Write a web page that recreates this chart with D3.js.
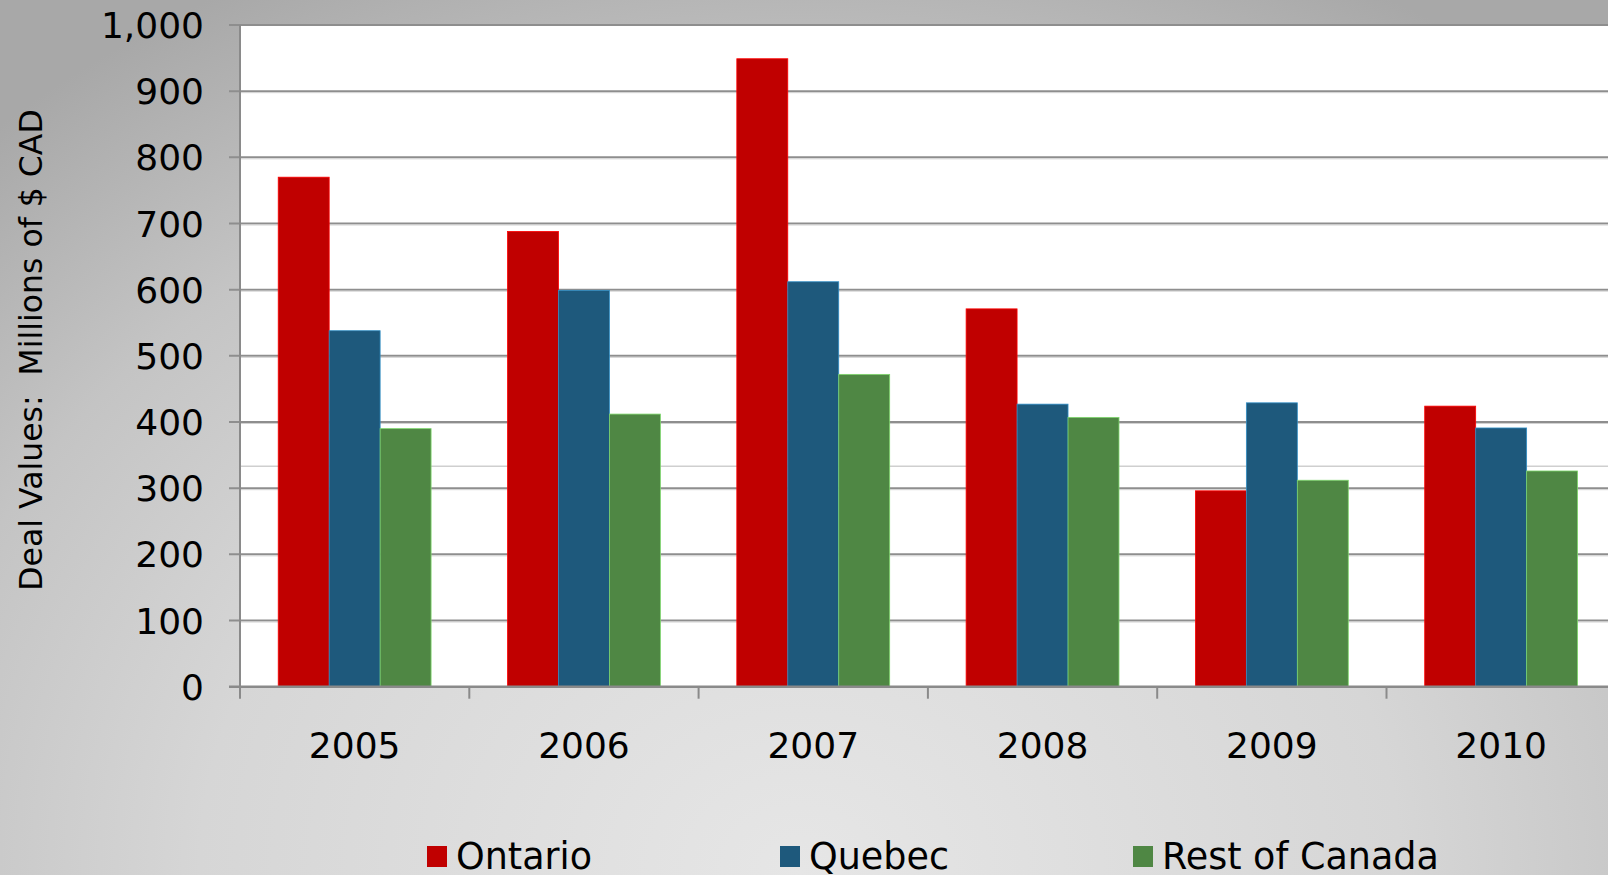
<!DOCTYPE html>
<html>
<head>
<meta charset="utf-8">
<script src="https://cdn.jsdelivr.net/npm/d3@7"></script>
<style>
  body { margin: 0; overflow: hidden; }
  svg { display: block; font-family: "DejaVu Sans", Verdana, sans-serif; }
</style>
</head>
<body>
<div id="chart"></div>
<script>
    // deal values, millions of $ CAD
    var years = ["2005", "2006", "2007", "2008", "2009", "2010"];
    var series = ["Ontario", "Quebec", "Rest of Canada"];
    var ontario = [770, 688, 949, 571, 296, 424];
    var quebec = [538, 599, 612, 427, 429, 391];
    var restOfCanada = [390, 412, 472, 407, 312, 326];
    var yTicks = [0, 100, 200, 300, 400, 500, 600, 700, 800, 900, 1000];
    var faintLine = 333; // stray light line across the plot in the original

    var seriesColors = ["#c00000", "#1e597c", "#4f8744"];

    var width = 1608;
    var height = 875;

    var rows = years.map(function (yr, i) {
        return { year: yr, vals: [ontario[i], quebec[i], restOfCanada[i]] };
    });

    var svg = d3.select("#chart").append("svg")
        .attr("width", width)
        .attr("height", height);

    // slide background
    var defs = svg.append("defs");
    var grad = defs.append("radialGradient")
        .attr("id", "bg")
        .attr("gradientUnits", "userSpaceOnUse")
        .attr("cx", 800).attr("cy", 870).attr("r", 1000)
        .attr("gradientTransform", "translate(800,870) scale(1.2,1) translate(-800,-870)");
    [[0, "#e6e6e6"], [0.5, "#d6d6d6"], [0.75, "#c4c4c4"], [1, "#a8a8a8"]].forEach(function (s) {
        grad.append("stop").attr("offset", s[0]).attr("stop-color", s[1]);
    });
    svg.append("rect").attr("width", width).attr("height", height).attr("fill", "url(#bg)");

    var plotLeft = 240, plotTop = 25, plotBottom = 686.7, step = 229.3;

    var x0 = d3.scaleBand()
        .domain(years)
        .range([plotLeft, plotLeft + step * years.length])
        .padding(0);

    var x1 = d3.scaleBand()
        .domain(series)
        .range([0, x0.bandwidth()])
        .paddingInner(0)
        .paddingOuter(0.75);

    var y = d3.scaleLinear()
        .domain([0, 1000])
        .range([plotBottom, plotTop]);

    // plot area
    svg.append("rect")
        .attr("x", plotLeft).attr("y", plotTop)
        .attr("width", width - plotLeft).attr("height", plotBottom - plotTop)
        .attr("fill", "#ffffff");

    // gridlines
    var grid = svg.append("g").attr("class", "grid");
    grid.selectAll("line.g")
        .data(yTicks.filter(function (d) { return d > 0; }))
        .enter().append("line")
        .attr("class", "g")
        .attr("x1", plotLeft - 11).attr("x2", width)
        .attr("y1", function (d) { return y(d); })
        .attr("y2", function (d) { return y(d); })
        .attr("stroke", "#8e8e8e")
        .attr("stroke-width", 2);
    grid.selectAll("line.h")
        .data(yTicks.filter(function (d) { return d > 0 && d < 1000; }))
        .enter().append("line")
        .attr("class", "h")
        .attr("x1", plotLeft).attr("x2", width)
        .attr("y1", function (d) { return y(d) + 1.5; })
        .attr("y2", function (d) { return y(d) + 1.5; })
        .attr("stroke", "#d2d2d2")
        .attr("stroke-width", 1);

    grid.append("line")
        .attr("x1", plotLeft + 1).attr("x2", width)
        .attr("y1", y(faintLine)).attr("y2", y(faintLine))
        .attr("stroke", "#cfcfcf")
        .attr("stroke-width", 1.5);

    // bars
    var groups = svg.append("g").selectAll("g")
        .data(rows)
        .enter().append("g")
        .attr("transform", function (d) { return "translate(" + x0(d.year) + ",0)"; });

    groups.selectAll("rect")
        .data(function (d) {
            return d.vals.map(function (v, i) { return { key: series[i], value: v, i: i }; });
        })
        .enter().append("rect")
        .attr("x", function (d) { return x1(d.key); })
        .attr("y", function (d) { return y(d.value); })
        .attr("width", x1.bandwidth())
        .attr("height", function (d) { return y(0) - y(d.value); })
        .attr("fill", function (d) { return seriesColors[d.i]; })
        .attr("stroke", function (d) { return d3.color(seriesColors[d.i]).brighter(1.3); })
        .attr("stroke-width", 0.8);

    // y axis
    var yAxis = d3.axisLeft(y)
        .tickValues(yTicks)
        .tickSize(0)
        .tickPadding(36)
        .tickFormat(d3.format(","));

    var yG = svg.append("g")
        .attr("transform", "translate(" + plotLeft + ",1)")
        .call(yAxis);
    yG.select(".domain").remove();
    yG.selectAll("text")
        .attr("font-size", 36)
        .attr("font-family", "DejaVu Sans, Verdana, sans-serif")
        .attr("fill", "#000");

    svg.append("line")
        .attr("x1", plotLeft).attr("x2", plotLeft)
        .attr("y1", plotTop).attr("y2", plotBottom + 1)
        .attr("stroke", "#8a8a8a").attr("stroke-width", 2);

    // x axis
    svg.append("line")
        .attr("x1", plotLeft - 11).attr("x2", width)
        .attr("y1", plotBottom).attr("y2", plotBottom)
        .attr("stroke", "#8a8a8a").attr("stroke-width", 2.5);

    var xAxis = d3.axisBottom(x0).tickSize(0).tickPadding(46);
    var xG = svg.append("g")
        .attr("transform", "translate(0," + plotBottom + ")")
        .call(xAxis);
    xG.select(".domain").remove();
    xG.selectAll("text")
        .attr("font-size", 36)
        .attr("font-family", "DejaVu Sans, Verdana, sans-serif")
        .attr("fill", "#000");

    // category divider ticks
    svg.append("g").selectAll("line")
        .data(years)
        .enter().append("line")
        .attr("x1", function (d) { return x0(d); })
        .attr("x2", function (d) { return x0(d); })
        .attr("y1", plotBottom).attr("y2", plotBottom + 12)
        .attr("stroke", "#8a8a8a").attr("stroke-width", 2);

    // y title
    svg.append("text")
        .attr("transform", "translate(42,350) rotate(-90)")
        .attr("text-anchor", "middle")
        .attr("font-size", 31.5)
        .attr("fill", "#000")
        .attr("xml:space", "preserve")
        .text("Deal Values:  Millions of $ CAD");

    // legend
    var legend = svg.append("g").attr("transform", "translate(427,846)");
    var items = legend.selectAll("g")
        .data(series)
        .enter().append("g")
        .attr("transform", function (d, i) { return "translate(" + (i * 353) + ",0)"; });
    items.append("rect")
        .attr("width", 20).attr("height", 21)
        .attr("fill", function (d, i) { return seriesColors[i]; });
    items.append("text")
        .attr("x", 29).attr("y", 23)
        .attr("font-size", 36.5)
        .attr("fill", "#000")
        .text(function (d) { return d; });
</script>
</body>
</html>
